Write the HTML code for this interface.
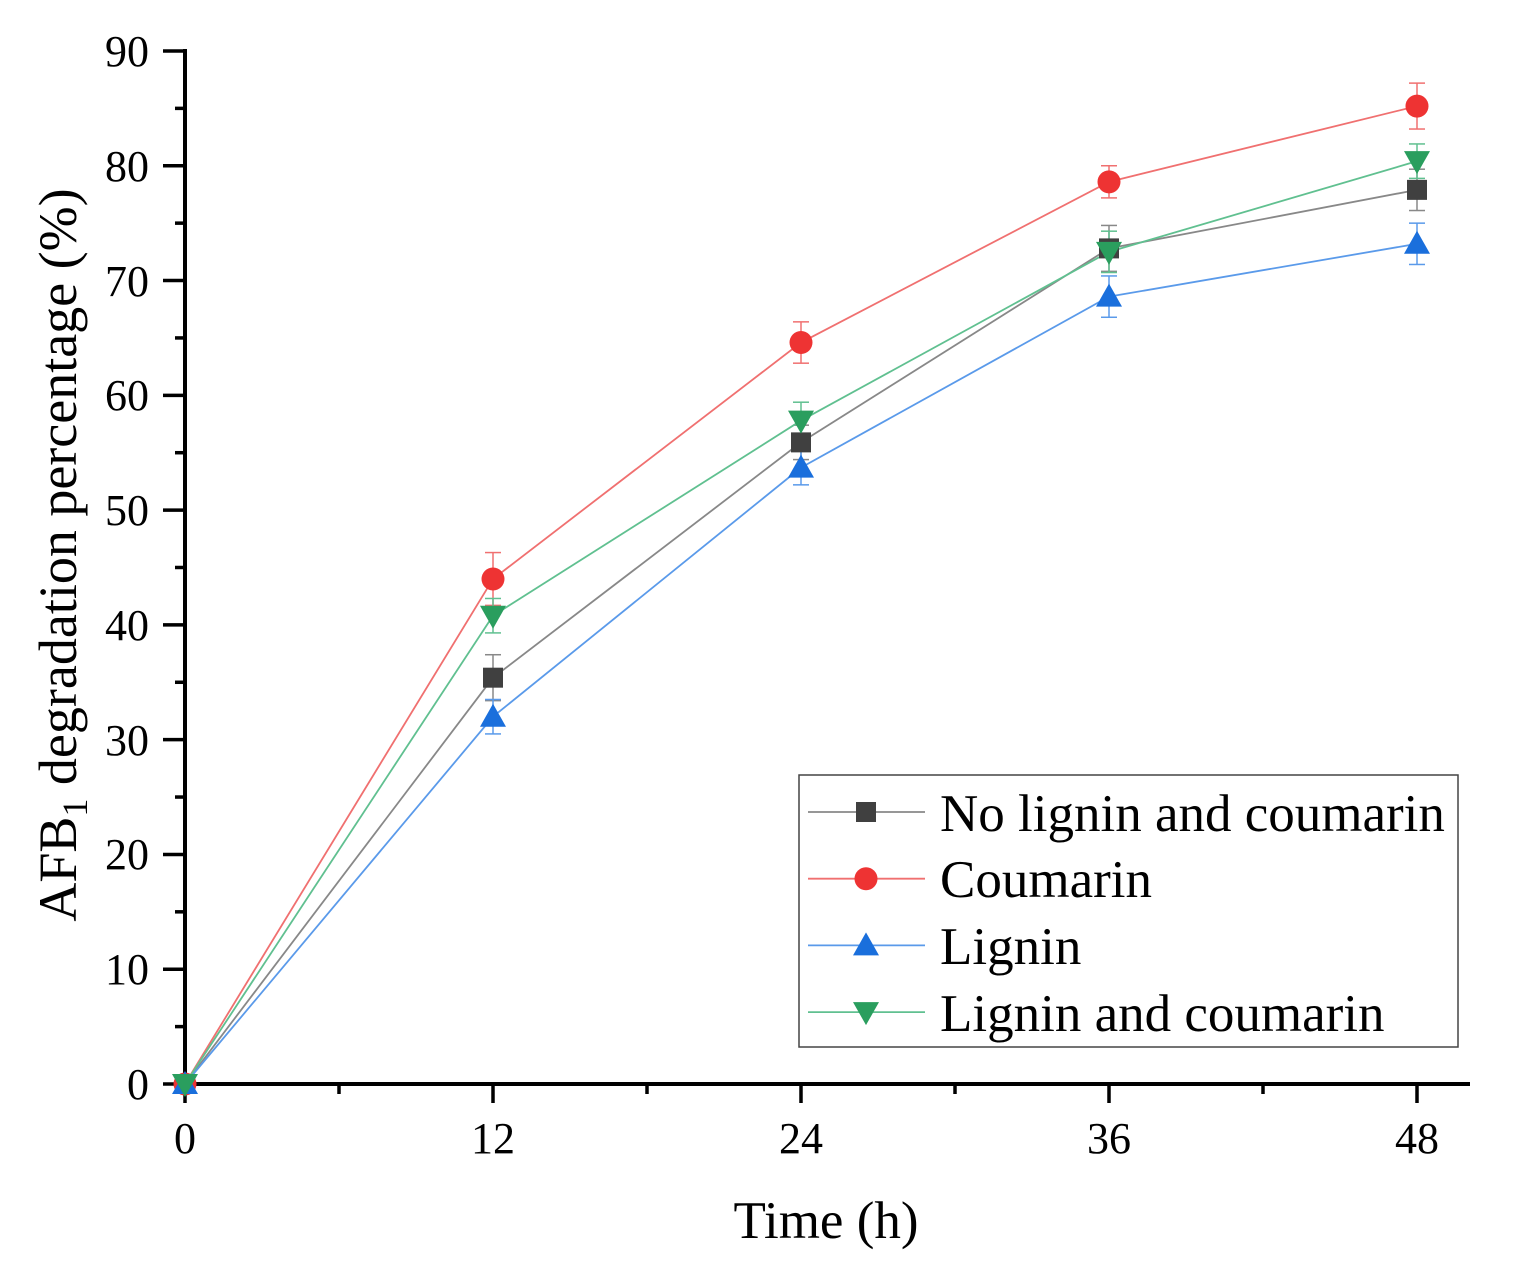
<!DOCTYPE html>
<html><head><meta charset="utf-8"><style>html,body{margin:0;padding:0;background:#fff}svg{display:block}</style></head>
<body>
<svg id="s" width="1521" height="1285" xmlns="http://www.w3.org/2000/svg" font-family="Liberation Serif, serif">
<g font-size="44" text-anchor="end" fill="#000">
<text x="149" y="1099">0</text><text x="149" y="984">10</text><text x="149" y="869">20</text><text x="149" y="755">30</text><text x="149" y="640">40</text><text x="149" y="525">50</text><text x="149" y="410">60</text><text x="149" y="296">70</text><text x="149" y="181">80</text><text x="149" y="66">90</text>
</g>
<g font-size="44" text-anchor="middle">
<text x="185" y="1153">0</text><text x="493" y="1153">12</text><text x="801" y="1153">24</text><text x="1109" y="1153">36</text><text x="1417" y="1153">48</text>
</g>
<text x="826" y="1238" font-size="53" text-anchor="middle">Time (h)</text>
<text transform="translate(76,555) rotate(-90)" font-size="54" text-anchor="middle">AFB<tspan font-size="36" dy="11">1</tspan><tspan dy="-11"> degradation percentage (%)</tspan></text>
<g id="g"></g>
<rect x="799" y="775" width="659" height="272" fill="none" stroke="#444" stroke-width="1.5"/>
<g font-size="53">
<text x="940" y="831">No lignin and coumarin</text>
<text x="940" y="897">Coumarin</text>
<text x="940" y="964">Lignin</text>
<text x="940" y="1031">Lignin and coumarin</text>
</g>
</svg>
<script>
const g=document.getElementById('g');let h='';
const X=t=>185+t*308/12, Y=v=>1084-v*114.78/10;
h+=`<line x1="185" y1="49" x2="185" y2="1086" stroke="#000" stroke-width="4"/>`;
h+=`<line x1="183" y1="1084" x2="1470" y2="1084" stroke="#000" stroke-width="4"/>`;
for(let v=0;v<=90;v+=5){const y=Y(v);h+=`<line x1="${v%10?175:163}" y1="${y}" x2="185" y2="${y}" stroke="#000" stroke-width="3.5"/>`;}
for(let t=0;t<=54;t+=6){const x=X(t);if(x>1468)break;h+=`<line x1="${x}" y1="1084" x2="${x}" y2="${t%12?1094:1103}" stroke="#000" stroke-width="3.5"/>`;}
const S=[
 {c:'#404040',l:'#888',m:'sq',d:[0,35.4,55.9,72.8,77.9],e:[0,2,1.5,2,1.8]},
 {c:'#ee3333',l:'#f07070',m:'ci',d:[0,44,64.6,78.6,85.2],e:[0,2.3,1.8,1.4,2]},
 {c:'#1a6fdc',l:'#5a9aea',m:'up',d:[0,32,53.7,68.6,73.2],e:[0,1.5,1.5,1.8,1.8]},
 {c:'#2a9e5e',l:'#60c090',m:'dn',d:[0,40.8,57.8,72.5,80.4],e:[0,1.5,1.6,1.8,1.5]}];
function mk(m,x,y,c){
 if(m=='sq')return `<rect x="${x-10}" y="${y-10}" width="20" height="20" fill="${c}"/>`;
 if(m=='ci')return `<circle cx="${x}" cy="${y}" r="11.5" fill="${c}"/>`;
 if(m=='up')return `<polygon points="${x},${y-13} ${x-13},${y+10} ${x+13},${y+10}" fill="${c}"/>`;
 return `<polygon points="${x},${y+13} ${x-13},${y-10} ${x+13},${y-10}" fill="${c}"/>`;}
S.forEach((s,i)=>{
 let p=s.d.map((v,j)=>X(j*12)+','+Y(v)).join(' ');
 h+=`<polyline points="${p}" fill="none" stroke="${s.l}" stroke-width="1.8"/>`;
 s.d.forEach((v,j)=>{if(j==0)return;const x=X(j*12),a=Y(v+s.e[j]),b=Y(v-s.e[j]);
  h+=`<line x1="${x}" y1="${a}" x2="${x}" y2="${b}" stroke="${s.l}" stroke-width="1.5"/><line x1="${x-8}" y1="${a}" x2="${x+8}" y2="${a}" stroke="${s.l}" stroke-width="1.5"/><line x1="${x-8}" y1="${b}" x2="${x+8}" y2="${b}" stroke="${s.l}" stroke-width="1.5"/>`;});
});
S.forEach(s=>{s.d.forEach((v,j)=>{h+=mk(s.m,X(j*12),Y(v),s.c);});});
S.forEach((s,i)=>{const y=812+i*66.7;h+=`<line x1="808" y1="${y}" x2="925" y2="${y}" stroke="${s.l}" stroke-width="1.8"/>`+mk(s.m,866,y,s.c);});
g.innerHTML=h;
</script>
</body></html>
